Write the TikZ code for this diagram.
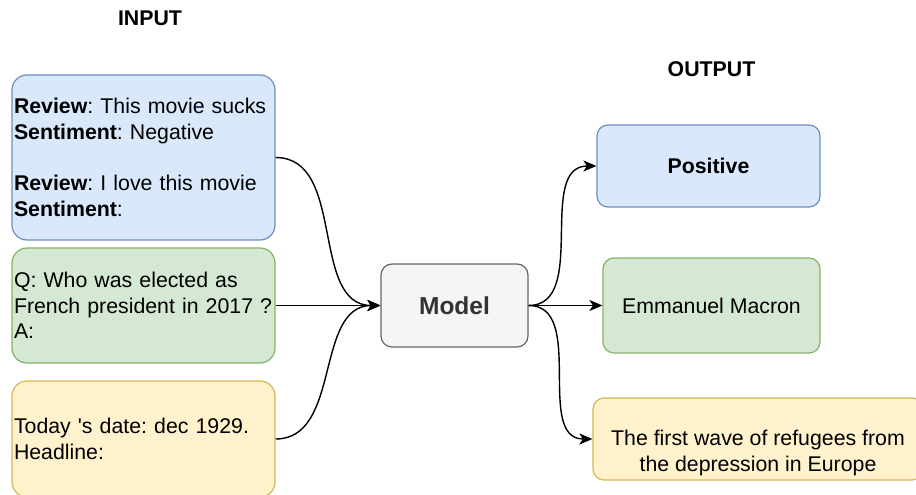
\documentclass[tikz,border=0pt]{standalone}
\usepackage{fontspec}
\setmainfont{Liberation Sans}
\usetikzlibrary{arrows.meta}
\definecolor{bfill}{HTML}{DAE8FC}
\definecolor{bline}{HTML}{6C8EBF}
\definecolor{gfill}{HTML}{D5E8D4}
\definecolor{gline}{HTML}{82B366}
\definecolor{yfill}{HTML}{FFF2CC}
\definecolor{yline}{HTML}{D6B656}
\definecolor{mfill}{HTML}{F5F5F5}
\definecolor{mline}{HTML}{666666}
\definecolor{mtext}{HTML}{333333}
\tikzset{
  txt/.style={font=\fontsize{21.3}{25.6}\selectfont\frenchspacing},
  inbox/.style={txt, draw, line width=1.2pt, rounded corners=15pt, text width=259pt, inner xsep=2pt, align=left, minimum width=263pt},
  outbox/.style={txt, draw, line width=1.2pt, rounded corners=11pt, align=center},
  hdr/.style={font=\fontsize{21.3}{25.6}\selectfont\bfseries},
  arr/.style={line width=1.4pt, -{Stealth[length=13pt,width=11pt,inset=3.5pt]}}
}
\begin{document}
\begin{tikzpicture}[x=1pt,y=-1pt]
\useasboundingbox (0,0) rectangle (916,495);
\node[hdr] (inhdr) at (150,18.5) {INPUT};
\node[hdr] (outhdr) at (711.5,69.5) {OUTPUT};

\node[inbox, fill=bfill, draw=bline, minimum height=165pt] (in1) at (143.5,157.5)
  {\textbf{Review}: This movie sucks\\ \textbf{Sentiment}: Negative\\[25.6pt] \textbf{Review}: I love this movie\\ \textbf{Sentiment}:};
\node[inbox, fill=gfill, draw=gline, minimum height=115pt] (in2) at (143.5,305.5)
  {Q: Who was elected as\\ French president in 2017 ?\\ A:};
\node[inbox, fill=yfill, draw=yline, minimum height=116pt] (in3) at (143.5,439)
  {Today \textquotesingle s date: dec 1929.\\ Headline:};

\node[draw=mline, fill=mfill, text=mtext, line width=1.2pt, rounded corners=11pt,
  minimum width=147pt, minimum height=83pt, font=\fontsize{24.5}{28}\selectfont\bfseries] (model) at (454.5,305.5) {Model};

\node[outbox, fill=bfill, draw=bline, minimum width=223pt, minimum height=82pt, font=\fontsize{21.3}{25.6}\selectfont\bfseries] (out1) at (708.5,166) {Positive};
\node[outbox, fill=gfill, draw=gline, minimum width=217pt, minimum height=95pt] (out2) at (711.5,305.5) {Emmanuel Macron};
\node[outbox, fill=yfill, draw=yline, minimum width=330pt, minimum height=82pt] (out3) at (758,439) {};
\node[txt, align=center] (out3txt) at ([yshift=-14pt]out3.center) {The first wave of refugees from\\ the depression in Europe};

\draw[arr] (in1.east) to[out=0,in=180] (model.west);
\draw[arr] (in2.east) -- (model.west);
\draw[arr] (in3.east) to[out=0,in=180] (model.west);
\draw[arr] (model.east) to[out=0,in=180] (out1.west);
\draw[arr] (model.east) -- (out2.west);
\draw[arr] (model.east) to[out=0,in=180] (out3.west);
\end{tikzpicture}
\end{document}
